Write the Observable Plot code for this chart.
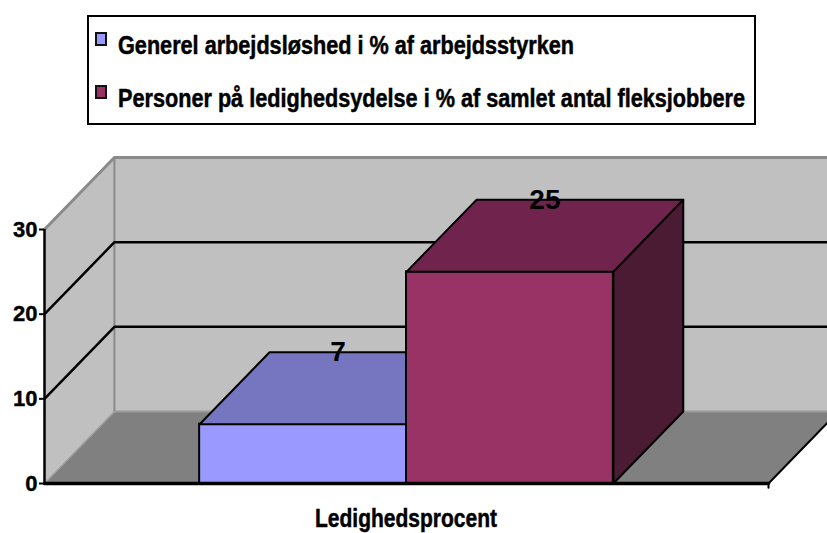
<!DOCTYPE html>
<html><head><meta charset="utf-8">
<script src="https://cdn.jsdelivr.net/npm/d3@7"></script>
<script src="https://cdn.jsdelivr.net/npm/@observablehq/plot@0.6"></script>
<style>
html,body{margin:0;padding:0;background:#fff;overflow:hidden;width:827px;height:533px}
#legend{position:relative;width:827px;height:140px}
#box{position:absolute;left:87px;top:15px;width:669px;height:110px;border:2px solid #000;box-sizing:border-box}
.sw{position:absolute;left:95px;width:12px;height:14px;border:2px solid #111;box-sizing:border-box}
.lt{position:absolute;left:118px;font-weight:bold;font-size:26px;font-family:"Liberation Sans Narrow","Liberation Sans",sans-serif;line-height:26px;white-space:nowrap;transform-origin:0 0;color:#000;-webkit-text-stroke:0.5px #000}
#chart{height:365px;width:827px;overflow:visible}
#cap{position:relative;height:28px;width:827px}
#cap span{position:absolute;left:315px;top:0px;font-weight:bold;font-size:26px;font-family:"Liberation Sans Narrow","Liberation Sans",sans-serif;line-height:26px;white-space:nowrap;transform-origin:0 0;-webkit-text-stroke:0.5px #000}
</style>
</head><body>
<div id="legend"><div id="box"></div></div>
<div id="chart"></div>
<div id="cap"><span></span></div>
<script>
// ---- data ----
const categories = ["Generel arbejdsløshed i % af arbejdsstyrken", "Personer på ledighedsydelse i % af samlet antal fleksjobbere"];
const values = [7, 25];
const frontColors = ["#9999FF", "#993366"];
const topColors = ["#7676C0", "#70244D"];
const sideColors = ["#4C4C80", "#4B1A33"];
const yTicks = [0, 10, 20, 30];
const gridValues = [10, 20];
const xTitle = "Ledighedsprocent";

// ---- geometry (category units / value units) ----
const halfGap = 0.75, barW = 1;
const axisLen = 2 * halfGap + values.length * barW;
const yMax = 30;
const DX = 0.338, DY = 8.5;

// ---- legend ----
const legend = document.getElementById("legend");
const legendTargets = [456, 627];
const swTops = [32, 85];
const textTops = [32, 85];
categories.forEach((c, i) => {
  const sw = document.createElement("div");
  sw.className = "sw"; sw.style.top = swTops[i] + "px"; sw.style.background = frontColors[i];
  legend.appendChild(sw);
  const t = document.createElement("span");
  t.className = "lt"; t.style.top = textTops[i] + "px"; t.textContent = c;
  t.dataset.target = legendTargets[i];
  legend.appendChild(t);
});
const cap = document.querySelector("#cap span");
cap.textContent = xTitle; cap.dataset.target = 182;

// ---- chart ----
const bars = values.map((v, i) => ({i, v, x1: halfGap + i * barW, x2: halfGap + (i + 1) * barW}));
const P = (x, y) => ({x, y});
function poly(pts, opts) {
  return Plot.line([...pts, pts[0]], {x: "x", y: "y", strokeLinejoin: "round", ...opts});
}
function path(pts, opts) {
  return Plot.line(pts, {x: "x", y: "y", strokeLinejoin: "round", ...opts});
}
const marks = [];
// back wall
marks.push(poly([P(DX, DY), P(axisLen + DX, DY), P(axisLen + DX, yMax + DY), P(DX, yMax + DY)], {fill: "#C0C0C0", stroke: "none"}));
// side wall
marks.push(poly([P(0, 0), P(DX, DY), P(DX, yMax + DY), P(0, yMax)], {fill: "#C0C0C0", stroke: "none"}));
// floor
marks.push(poly([P(0, 0), P(axisLen, 0), P(axisLen + DX, DY), P(DX, DY)], {fill: "#808080", stroke: "none"}));
// wall edges
marks.push(path([P(DX, DY), P(DX, yMax + DY)], {stroke: "#8a8a8a", strokeWidth: 2}));
marks.push(path([P(0, yMax), P(DX, yMax + DY), P(axisLen + DX, yMax + DY)], {stroke: "#8a8a8a", strokeWidth: 3}));
marks.push(path([P(DX, DY), P(axisLen + DX, DY)], {stroke: "#9a9a9a", strokeWidth: 2}));
marks.push(path([P(0, 0), P(DX, DY)], {stroke: "#a0a0a0", strokeWidth: 1.5}));
// gridlines
gridValues.forEach(g => {
  marks.push(path([P(0, g), P(DX, g + DY), P(axisLen + DX, g + DY)], {stroke: "#000", strokeWidth: 2.5}));
});
// floor right edge
marks.push(path([P(axisLen, 0), P(axisLen + DX, DY)], {stroke: "#000", strokeWidth: 2}));
// bars
bars.forEach(b => {
  marks.push(Plot.rect([b], {x1: "x1", x2: "x2", y1: 0, y2: "v", fill: frontColors[b.i], stroke: "#000", strokeWidth: 2}));
  marks.push(poly([P(b.x1, b.v), P(b.x2, b.v), P(b.x2 + DX, b.v + DY), P(b.x1 + DX, b.v + DY)], {fill: topColors[b.i], stroke: "#000", strokeWidth: 2}));
  marks.push(poly([P(b.x2, b.v), P(b.x2, 0), P(b.x2 + DX, DY), P(b.x2 + DX, b.v + DY)], {fill: sideColors[b.i], stroke: "#000", strokeWidth: 2}));
});
// front floor line & axis
marks.push(path([P(0, 0), P(axisLen, 0)], {stroke: "#000", strokeWidth: 3.5}));
marks.push(path([P(axisLen, 0), P(axisLen, -0.5)], {stroke: "#000", strokeWidth: 2}));
marks.push(Plot.ruleX([0], {y1: 0, y2: yMax, stroke: "#000", strokeWidth: 2.5}));
marks.push(Plot.ruleY(yTicks, {y: d => d, x1: 0, x2: 0, insetLeft: -5, stroke: "#000", strokeWidth: 2}));
marks.push(Plot.text(yTicks, {y: d => d, x: 0, text: d => String(d), dx: -7, textAnchor: "end", fontSize: 22, fontWeight: "bold", fill: "#000", stroke: "#000", strokeWidth: 0.4, ariaLabel: "tick-label"}));
// value labels
marks.push(Plot.text(bars, {x: d => (d.x1 + d.x2) / 2 + DX / 2, y: d => d.v + DY, text: d => String(d.v), fontSize: 28, fontWeight: "bold", fill: "#000", ariaLabel: "value-label"}));

const chart = Plot.plot({
  width: 827, height: 365,
  marginLeft: 44, marginRight: 59, marginTop: 89, marginBottom: 22,
  x: {type: "linear", domain: [0, axisLen], range: [44, 768], axis: null},
  y: {type: "linear", domain: [0, yMax], range: [343, 89], axis: null},
  style: {fontFamily: "'Liberation Sans Narrow','Liberation Sans',sans-serif", fontWeight: "bold", background: "transparent", overflow: "visible", color: "#000"},
  marks
});
document.getElementById("chart").appendChild(chart);

// horizontally condense value labels (narrow bold face in the reference)
chart.querySelectorAll('g[aria-label="value-label"] text').forEach(t => {
  const tr = t.getAttribute("transform");
  if (tr) t.setAttribute("transform", tr + " scale(0.8,1)");
  else {
    const x = +t.getAttribute("x") || 0, y = +t.getAttribute("y") || 0;
    t.setAttribute("transform", `translate(${x},${y}) scale(0.8,1) translate(${-x},${-y})`);
  }
});

function fit() {
  document.querySelectorAll("[data-target]").forEach(el => {
    el.style.transform = "none";
    const w = el.getBoundingClientRect().width;
    if (w > 0) el.style.transform = `scaleX(${(+el.dataset.target) / w})`;
  });
}
fit();
if (document.fonts && document.fonts.ready) document.fonts.ready.then(fit);
</script>
</body></html>
